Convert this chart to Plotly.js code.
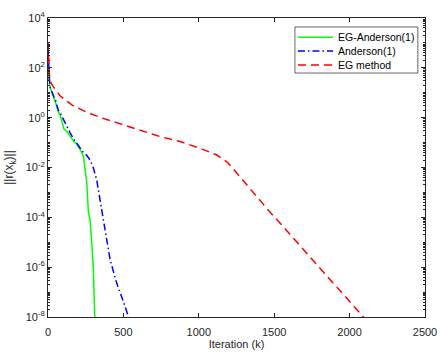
<!DOCTYPE html>
<html>
<head>
<meta charset="utf-8">
<script src="https://cdn.plot.ly/plotly-3.0.1.min.js"></script>
<style>
  html, body { margin: 0; padding: 0; background: #fff; }
  #chart { width: 440px; height: 355px; }
</style>
</head>
<body>
<div id="chart"></div>
<script>
// residual norms, stored as log10 values
const egaIter = [0, 2, 5, 10, 15, 25, 35, 50, 68, 80, 95, 105, 124, 146, 170, 190, 212, 224, 235, 246, 257, 268, 272, 279, 290, 301, 310, 314];
const egaLog  = [2.0, 1.8, 1.6, 1.35, 1.2, 1.0, 0.85, 0.6, 0.25, 0.1, -0.2, -0.45, -0.55, -0.75, -0.95, -1.05, -1.25, -1.4, -1.55, -2.1, -2.6, -3.8, -4.0, -4.1, -5.0, -6.1, -8.0, -8.1];

const andIter = [0, 2, 5, 10, 15, 25, 35, 50, 68, 80, 100, 124, 146, 170, 190, 212, 235, 255, 279, 300, 323, 345, 367, 379, 395, 412, 435, 456, 495, 533, 540];
const andLog  = [2.8, 2.3, 1.9, 1.5, 1.2, 1.0, 0.9, 0.7, 0.3, 0.2, -0.05, -0.3, -0.6, -0.85, -1.03, -1.23, -1.4, -1.5, -1.7, -2.0, -2.5, -3.3, -4.1, -4.5, -5.1, -5.7, -6.2, -6.65, -7.3, -8.0, -8.1];

const egIter = [0, 2, 5, 10, 20, 40, 80, 160, 250, 350, 480, 611, 744, 876, 1009, 1120, 1186, 1253, 1319, 1452, 1600, 1800, 2000, 2092, 2100];
const egLog  = [3.0, 2.7, 2.2, 1.7, 1.4, 1.2, 0.88, 0.5, 0.24, 0.0, -0.25, -0.49, -0.76, -0.96, -1.23, -1.5, -1.77, -2.23, -2.7, -3.65, -4.65, -6.0, -7.38, -8.0, -8.06];

const seriesNames = ['EG-Anderson(1)', 'Anderson(1)', 'EG method'];
const seriesColors = ['#00ff00', '#0000ff', '#ff0000'];
const seriesDash = ['solid', '7px,3px,1.5px,3px', '8px,5px'];
const xTicks = [0, 500, 1000, 1500, 2000, 2500];
const yTickVals = [1e-8, 1e-6, 1e-4, 1e-2, 1e0, 1e2, 1e4];
const yTickText = ['10<sup>-8</sup>', '10<sup>-6</sup>', '10<sup>-4</sup>', '10<sup>-2</sup>', '10<sup>0</sup>', '10<sup>2</sup>', '10<sup>4</sup>'];

const toVal = arr => arr.map(v => Math.pow(10, v));
const xs = [egaIter, andIter, egIter];
const ys = [egaLog, andLog, egLog];

const traces = xs.map((x, i) => ({
  x: x, y: toVal(ys[i]), name: seriesNames[i], mode: 'lines', showlegend: false,
  line: { color: seriesColors[i], width: 1.5, dash: seriesDash[i] }
}));

// legend box drawn by hand (MATLAB-style compact rows)
const shapes = [{
  type: 'rect', xref: 'paper', yref: 'paper',
  x0: 0.655, x1: 0.981, y0: 0.816, y1: 0.970,
  fillcolor: '#fff', line: { color: '#262626', width: 0.7 }, layer: 'above'
}];
const annotations = [];
const rowY = [0.936, 0.890, 0.843];
seriesNames.forEach((name, i) => {
  shapes.push({
    type: 'line', xref: 'paper', yref: 'paper',
    x0: 0.663, x1: 0.756, y0: rowY[i], y1: rowY[i], layer: 'above',
    line: { color: seriesColors[i], width: 1.5, dash: seriesDash[i] }
  });
  annotations.push({
    xref: 'paper', yref: 'paper', x: 0.765, y: rowY[i],
    xanchor: 'left', yanchor: 'middle', showarrow: false, text: name,
    font: { size: 10.5, color: '#000' }
  });
});

const axisCommon = {
  showline: true, linecolor: '#262626', linewidth: 1, mirror: 'ticks',
  ticks: 'inside', ticklen: 4, tickcolor: '#262626', showgrid: false, zeroline: false,
  tickfont: { family: 'Liberation Sans, Arial, sans-serif', size: 11, color: '#262626' }
};

const layout = {
  width: 440, height: 355,
  margin: { l: 48, r: 15, t: 18, b: 38 },
  paper_bgcolor: '#fff', plot_bgcolor: '#fff',
  font: { family: 'Liberation Sans, Arial, sans-serif', size: 11, color: '#262626' },
  xaxis: Object.assign({}, axisCommon, {
    range: [0, 2500], tickmode: 'array', tickvals: xTicks, ticklabelstandoff: 5,
    title: { text: 'Iteration (k)', standoff: 3, font: { size: 11 } }
  }),
  yaxis: Object.assign({}, axisCommon, {
    type: 'log', range: [-8, 4], tickmode: 'array',
    tickvals: yTickVals, ticktext: yTickText,
    minor: { dtick: 'D1', ticks: 'inside', ticklen: 2, tickcolor: '#262626', showgrid: false },
    title: { text: '||r(x<sub>k</sub>)||', standoff: 9, font: { size: 12 } }
  }),
  showlegend: false,
  shapes: shapes,
  annotations: annotations
};

Plotly.newPlot('chart', traces, layout, { staticPlot: true });
</script>
</body>
</html>
